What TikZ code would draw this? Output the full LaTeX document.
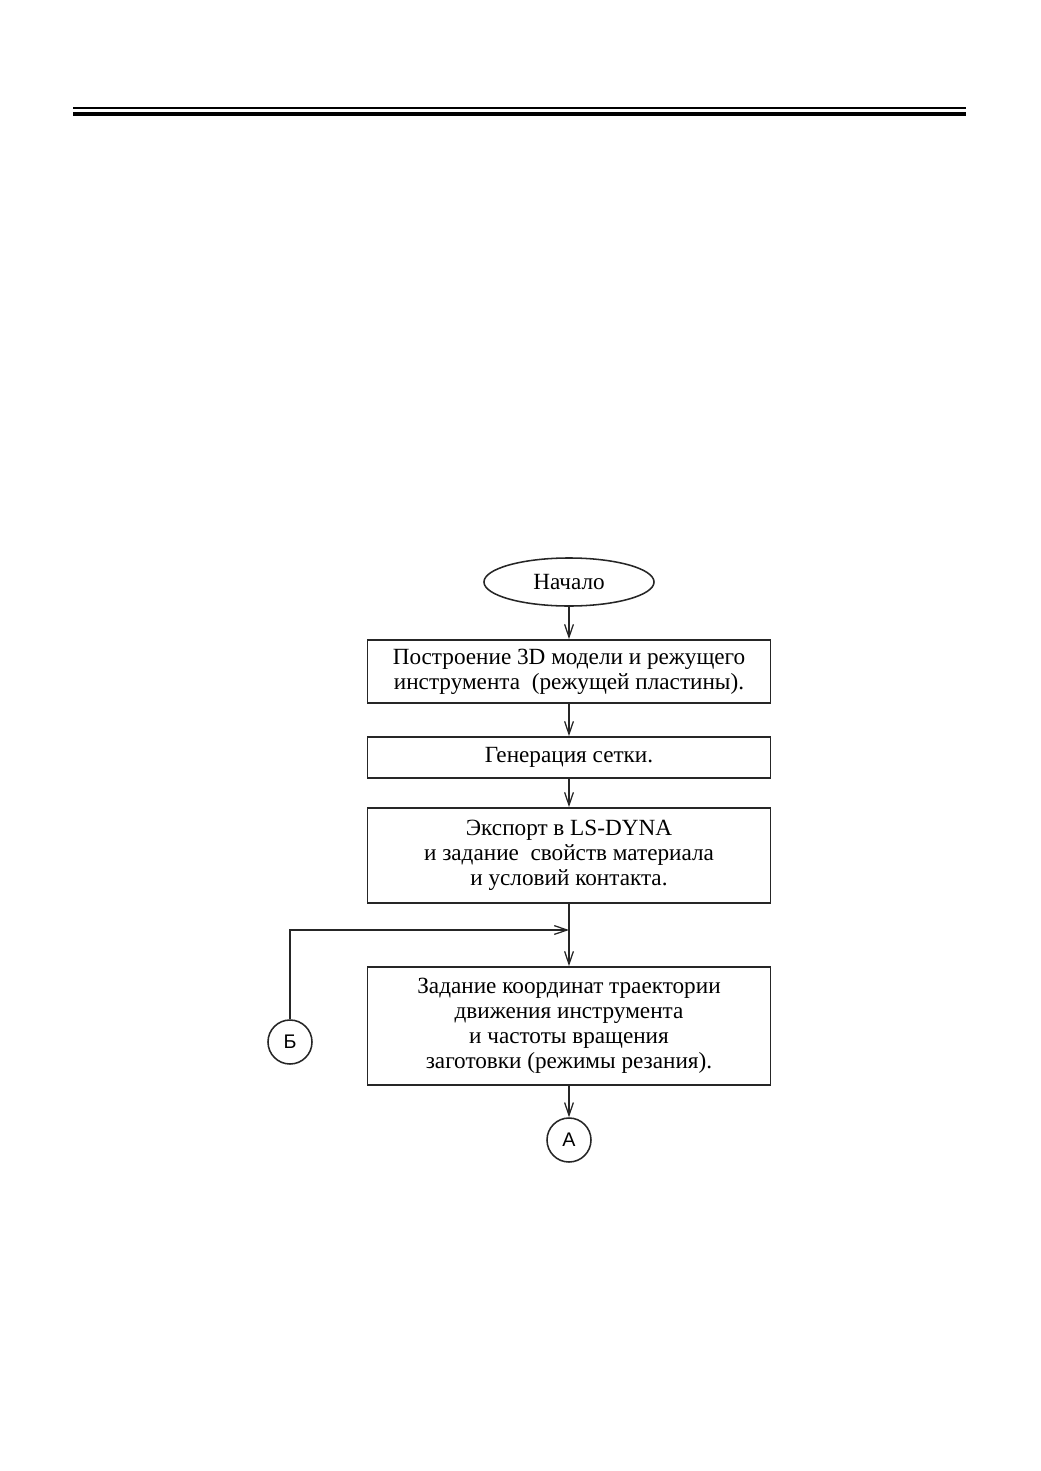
\documentclass[tikz,border=0pt]{standalone}
\usepackage{fontspec}
\setmainfont{Liberation Serif}
\newfontfamily\consans{Liberation Sans}
\usetikzlibrary{arrows.meta,positioning,shapes.geometric}

\begin{document}
\begin{tikzpicture}[
    x=0.025cm, y=-0.025cm,
    font=\fontsize{16.5}{17.7}\selectfont,
    >={Straight Barb[length=3.2mm,width=2.2mm]},
    blk/.style={draw=black!85, line width=1.3pt, fill=white, align=center, minimum width=10.075cm, inner sep=2pt},
    term/.style={draw=black!85, line width=1.1pt, ellipse, minimum width=4.25cm, minimum height=1.2cm, inner sep=0pt},
    con/.style={draw=black!85, line width=1.1pt, circle, minimum size=1.1cm, inner sep=0pt, font=\consans\fontsize{14}{16}\selectfont},
    arr/.style={->, line width=0.9pt, draw=black!85}
  ]
  \useasboundingbox (0,0) rectangle (1040,1471);

  % --- HEADER RULES ---
  \draw[line width=1pt] (73,108) -- (966,108);
  \draw[line width=2.2pt] (73,114) -- (966,114);

  % --- FLOW ---
  \node[term] (start) at (569,582) {Начало};
  \node[blk, minimum height=1.575cm] (build) at (569,671.5) {Построение 3D модели и режущего\\инструмента\ \ (режущей пластины).};
  \node[blk, minimum height=1.025cm] (mesh) at (569,757.5) {Генерация сетки.};
  \node[blk, minimum height=2.375cm] (export) at (569,855.5) {Экспорт в LS-DYNA\\и задание\ \ свойств материала\\и условий контакта.};
  \node[blk, minimum height=2.95cm] (setup) at (569,1026) {Задание координат траектории\\движения инструмента\\и частоты вращения\\заготовки (режимы резания).};

  % --- CONNECTORS (off-page) ---
  \node[con] (conB) at (290,1042) {Б};
  \node[con] (conA) at (569,1140) {А};

  \coordinate (join) at (569,930);

  % --- CONNECTIONS ---
  \draw[arr] (start.south) -- (build.north);
  \draw[arr] (build.south) -- (mesh.north);
  \draw[arr] (mesh.south) -- (export.north);
  \draw[arr] (export.south) -- (setup.north);
  \draw[arr] (conB.north) |- (join);
  \draw[arr] (setup.south) -- (conA.north);

\end{tikzpicture}
\end{document}
